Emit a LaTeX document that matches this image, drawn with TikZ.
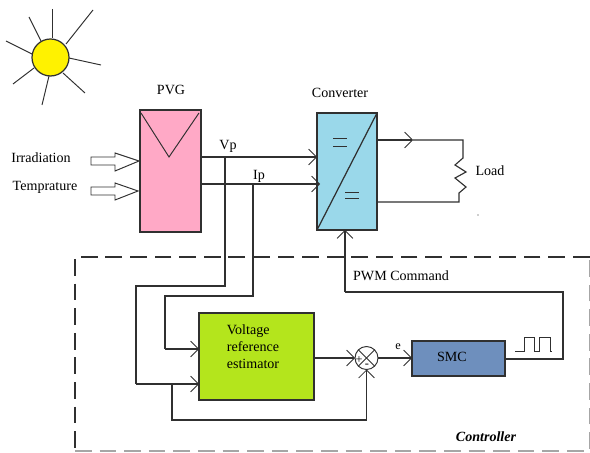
\documentclass[tikz,border=0pt]{standalone}
\usepackage{fontspec}
\setmainfont{Liberation Serif}
\usetikzlibrary{arrows.meta}
\definecolor{pvgpink}{HTML}{FFA9C6}
\definecolor{convblue}{HTML}{9AD8EA}
\definecolor{estgreen}{HTML}{B4E51C}
\definecolor{smcblue}{HTML}{6E8FBD}
\definecolor{sunyellow}{HTML}{FFF200}
\definecolor{wire}{HTML}{303030}
\tikzset{
    box/.style={draw=wire,line width=0.7pt,inner sep=0pt,outer sep=0pt},
    lbl/.style={font=\fontsize{8}{9}\selectfont,inner sep=0pt},
    sig/.style={draw=wire,line width=0.65pt},
    barb/.style={-{Straight Barb[length=4.5pt,width=9pt,line width=0.45pt]}},
    ctrlline/.style={line width=0.7pt,dash pattern=on 9.5pt off 4.5pt},
}
\begin{document}
\begin{tikzpicture}[x=0.02cm,y=-0.02cm]
        \useasboundingbox (0,0) rectangle (590,452);
        % sun
        \foreach \a/\b/\c/\d in {52/9/52/38,29/17/41/41,93/10/66/44,6/41/32/54,101/65/69/58,13/84/34/68,85/93/63/73,42/105/49/76}{
            \draw[wire,line width=0.55pt](\a,\b)--(\c,\d);
        }
        \node[box,circle,fill=sunyellow,minimum size=0.74cm] (sun) at (50.5,57.5){};
        % blocks
        \node[box,fill=pvgpink,minimum width=1.22cm,minimum height=2.44cm] (pvg) at (170.5,171){};
        \node[box,fill=convblue,minimum width=1.2cm,minimum height=2.34cm] (conv) at (347,171.5){};
        \node[box,fill=estgreen,minimum width=2.3cm,minimum height=1.74cm] (est) at (256.5,356.5){};
        \node[box,fill=smcblue,minimum width=1.86cm,minimum height=0.7cm] (smc) at (458.5,358.5){};
        \node[box,circle,minimum size=0.46cm,line width=0.55pt] (sum) at (366.5,358){};
        \draw[wire,line width=0.55pt](sum.north west)--(sum.south east);
        \draw[wire,line width=0.55pt](sum.north east)--(sum.south west);
        % block marks
        \draw[wire,line width=0.55pt](141,113)--(169,157)--(199,113);
        \draw[wire,line width=0.7pt](conv.south west)--(conv.north east);
        \draw[wire,line width=0.55pt](333,138)--(347,138);
        \draw[wire,line width=0.55pt](333,146)--(347,146);
        \draw[wire,line width=0.55pt](345,192)--(359,192);
        \draw[wire,line width=0.55pt](345,198)--(359,198);
        % input arrows
        \draw[wire,line width=0.55pt](139,161)--(115,153)--(115,157)--(91,157)--(91,165)--(115,165)--(115,171)--cycle;
        \draw[wire,line width=0.55pt](138,191)--(115,183)--(115,187)--(91,187)--(91,195)--(115,195)--(115,200)--cycle;
        % measurements
        \coordinate (vp) at (225,157);
        \coordinate (ip) at (253,184);
        \coordinate (vpa) at (136,286);
        \coordinate (ipa) at (165,296);
        \coordinate (esta) at (136,384);
        \coordinate (estb) at (165,349);
        \draw[sig,barb](vp -| pvg.east)--(vp -| conv.west);
        \draw[sig,barb](ip -| pvg.east)--(320,184);
        \draw[sig](vp)--(vp |- vpa)--(vpa)--(esta);
        \draw[sig,barb](esta)--(esta -| est.west);
        \draw[sig](ip)--(ip |- ipa)--(ipa)--(estb);
        \draw[sig,barb](estb)--(estb -| est.west);
        % feedback
        \coordinate (fba) at (172,384);
        \coordinate (fbb) at (172,420);
        \draw[sig,barb](fba)--(fbb)--(fbb -| sum.south)--(sum.south);
        \draw[sig,barb](est.east |- sum.west)--(sum.west);
        \draw[sig,barb](sum.east)--(sum.east -| smc.west);
        % pwm
        \coordinate (pwma) at (563,359);
        \coordinate (pwmb) at (563,292);
        \coordinate (pwmc) at (345,292);
        \draw[sig](pwma -| smc.east)--(pwma)--(pwmb)--(pwmc);
        \draw[sig,barb](pwmc)--(pwmc |- conv.south);
        \draw[wire,line width=0.55pt](515,351)--(524,351)--(524,337)--(534,337)--(534,351)--(539,351)--(539,337)--(550,337)--(550,351)--(552,351);
        % load
        \coordinate (loada) at (463,140);
        \coordinate (loadb) at (459,202);
        \draw[sig,barb](loada -| conv.east)--(413,140);
        \draw[sig](413,140)--(loada)--(463,158)--(455,165)--(466,172)--(455,178)--(466,187)--(459,193)--(loadb)--(loadb -| conv.east);
        % controller
        \draw[wire,ctrlline](589.5,257)--(75,257)--(75,451);
        \draw[gray!70,ctrlline](75,451)--(589.5,451)--(589.5,257);
        % labels
        \node[lbl] (pvgl) at (171,90){PVG};
        \node[lbl] (convl) at (340,93){Converter};
        \node[lbl] (vpl) at (228,146){Vp};
        \node[lbl] (ipl) at (259,176){Ip};
        \node[lbl] (irrl) at (41,158){Irradiation};
        \node[lbl] (templ) at (45,187){Temprature};
        \node[lbl] (loadl) at (490,171){Load};
        \node[lbl] (pwml) at (401,276){PWM Command};
        \node[lbl,align=left,font=\fontsize{8}{9.6}\selectfont] (estl) at (253,347){Voltage\\reference\\estimator};
        \node[lbl] (smcl) at (452,357){SMC};
        \node[lbl,font=\fontsize{7}{8}\selectfont] (el) at (398,347){e};
        \node[lbl,font=\fontsize{7}{8}\selectfont] (plusl) at (359,360){+};
        \node[lbl,font=\fontsize{7}{8}\selectfont] (minusl) at (367,366){-};
        \node[lbl,font=\fontsize{8}{9}\selectfont\bfseries\itshape] (ctrll) at (486,437){Controller};
        \fill[wire] (478,215) circle (0.3pt);
    \end{tikzpicture}
\end{document}
